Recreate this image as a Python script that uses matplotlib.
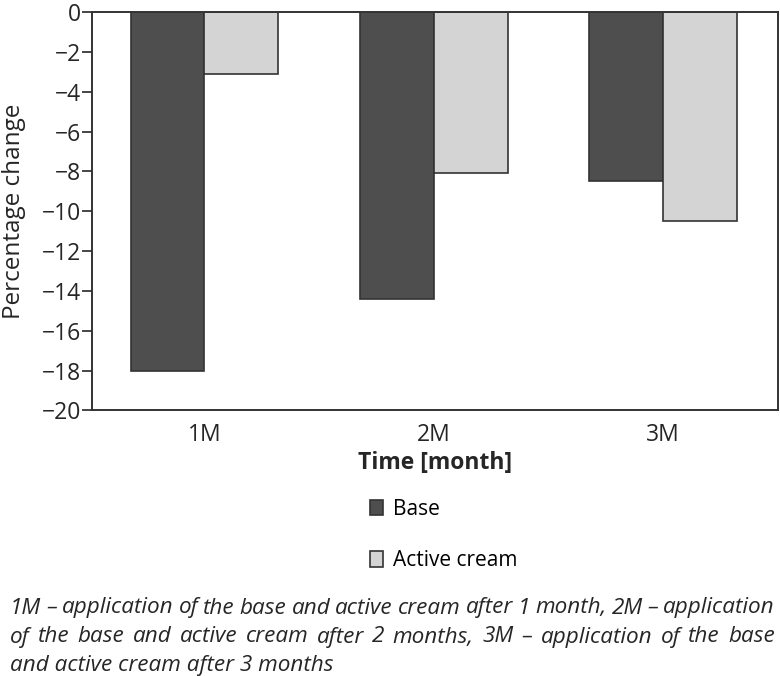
import matplotlib
matplotlib.use("Agg")
import matplotlib.pyplot as plt
import matplotlib.patches as mpatches
import numpy as np

categories = ['1M', '2M', '3M']
base_vals = [-18.0, -14.4, -8.5]
active_vals = [-3.1, -8.1, -10.5]
series_names = ['Base', 'Active cream']
caption_lines = [
    "1M \u2013 application of the base and active cream after 1 month, 2M \u2013 application",
    "of the base and active cream after 2 months, 3M \u2013 application of the base",
    "and active cream after 3 months",
]

plt.rcParams['font.family'] = ['Open Sans', 'DejaVu Sans']

dark = '#4e4e4e'
light = '#d4d4d4'
edge = '#333333'
txt = '#262626'

fig = plt.figure(figsize=(7.8, 6.76), dpi=100)
ax = fig.add_axes([0.118, 0.393, 0.879, 0.589])

x = np.arange(len(categories))
w = 0.322
ax.bar(x - w / 2, base_vals, w, color=dark, edgecolor=edge, linewidth=1.2, label=series_names[0])
ax.bar(x + w / 2, active_vals, w, color=light, edgecolor=edge, linewidth=1.2, label=series_names[1])

ax.set_xlim(-0.49, 2.5)
ax.set_ylim(-20, 0)
ax.set_yticks(np.arange(-20, 1, 2))
ax.set_yticklabels([f'\u2212{abs(v)}' if v < 0 else str(v) for v in range(-20, 1, 2)])
ax.set_xticks(x)
ax.set_xticklabels(categories)
ax.tick_params(axis='y', length=7, width=1.2, labelsize=16.5, pad=1, colors=txt)
ax.tick_params(axis='x', length=0, labelsize=16.5, pad=9, colors=txt)
for s in ax.spines.values():
    s.set_linewidth(1.4)
    s.set_color('#333333')

ax.set_ylabel('Percentage change', fontsize=17.5, color=txt)
ax.yaxis.set_label_coords(-0.096, 0.5)
ax.set_xlabel('Time [month]', fontsize=16.5, fontweight='bold', labelpad=3, color=txt)

handles = [mpatches.Patch(facecolor=dark, edgecolor=edge, linewidth=1.2),
           mpatches.Patch(facecolor=light, edgecolor=edge, linewidth=1.2)]
fig.legend(handles, series_names, loc='upper left', bbox_to_anchor=(0.464, 0.274),
           frameon=False, fontsize=15, handlelength=0.6, handleheight=0.75,
           handletextpad=0.5, labelspacing=1.45, borderaxespad=0)

# caption, justified by hand (last line left)
ys = [608, 637, 666]
left, right = 10 / 780, 775 / 780
r = fig.canvas.get_renderer()
cap_kw = dict(fontsize=16.2, style='italic', va='center', color=txt)
for i, (line, yy) in enumerate(zip(caption_lines, ys)):
    yf = 1 - yy / 676
    if i == len(caption_lines) - 1:
        fig.text(left, yf, line, ha='left', **cap_kw)
        continue
    words = line.split(' ')
    objs = [fig.text(0, yf, wd, ha='left', **cap_kw) for wd in words]
    widths = [o.get_window_extent(renderer=r).width / fig.bbox.width for o in objs]
    gap = (right - left - sum(widths)) / (len(words) - 1)
    xx = left
    for o, wdt in zip(objs, widths):
        o.set_x(xx)
        xx += wdt + gap

fig.savefig('out.png', dpi=100)
